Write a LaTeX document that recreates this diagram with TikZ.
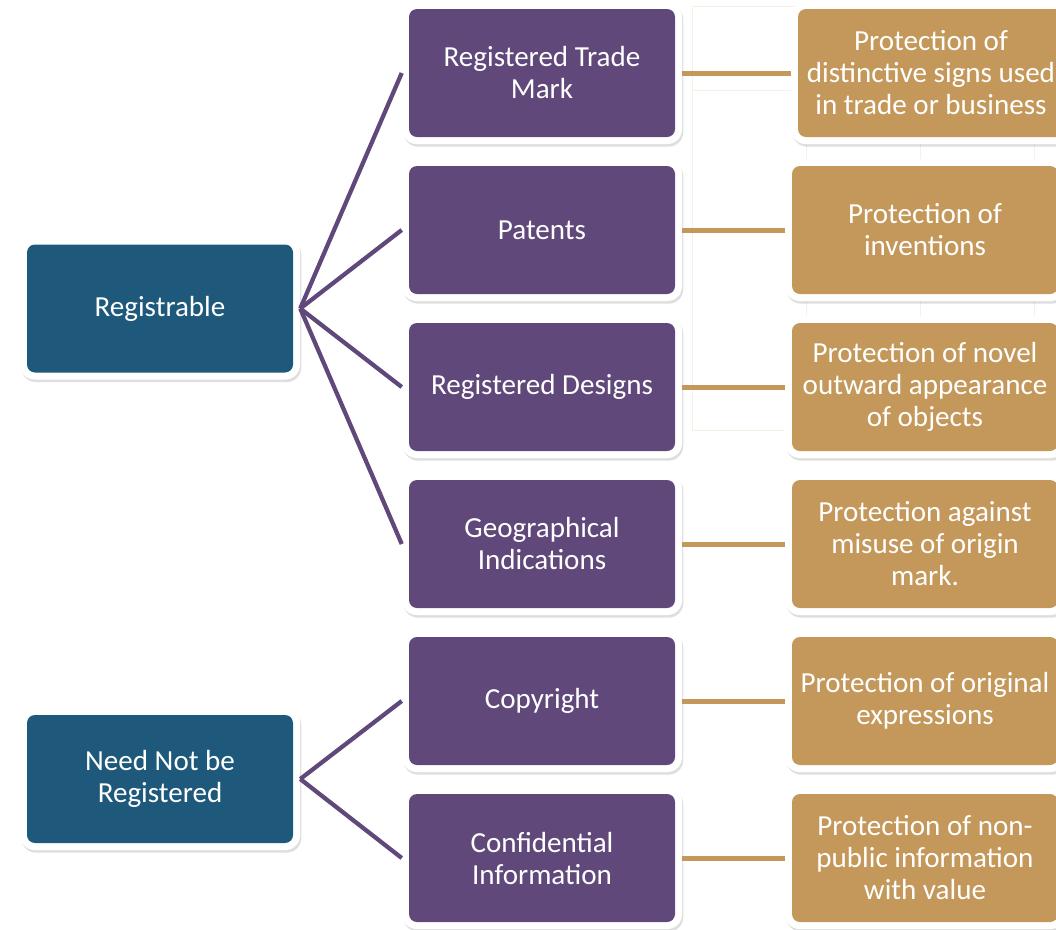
\documentclass[tikz,border=0pt]{standalone}
\usepackage{fontspec}
\setmainfont{Carlito}
\usetikzlibrary{shadows}

\definecolor{ipteal}{RGB}{30,88,122}
\definecolor{ippurple}{RGB}{96,73,122}
\definecolor{ipgold}{RGB}{195,152,90}
\definecolor{ipgrid}{RGB}{248,241,227}

\tikzset{
  card/.style={rounded corners=11pt, fill=white, minimum width=210pt,
    minimum height=106.5pt, inner sep=2pt, align=center, text=white,
    font=\fontsize{21.8}{24}\selectfont,
    drop shadow={shadow xshift=1pt, shadow yshift=-2pt, opacity=.25},
    path picture={\fill[#1, rounded corners=6pt]
      ([xshift=5.25pt,yshift=-5.25pt]path picture bounding box.north west) rectangle
      ([xshift=-5.25pt,yshift=5.25pt]path picture bounding box.south east);}},
  kindbox/.style={card=ipteal},
  rightbox/.style={card=ippurple},
  aimbox/.style={card=ipgold},
  gridline/.style={ipgrid, line width=.75pt}
}

\begin{document}
\begin{tikzpicture}[x=.75pt,y=-.75pt]
  \clip (0,0) rectangle (1056,929);

  % faint table behind the top right boxes
  \foreach \y in {6,90,430}
    \draw[gridline] (692,\y) -- (1056,\y);
  \foreach \x in {692,806,920,1034}
    \draw[gridline] (\x,6) -- (\x,430);

  \node[kindbox] (reg) at (160,308.5) {Registrable};
  \node[kindbox] (nnr) at (160,779) {Need Not be\\Registered};

  \node[rightbox] (tm)  at (542,73)  {Registered Trade\\Mark};
  \node[rightbox] (pat) at (542,230) {Patents};
  \node[rightbox] (des) at (542,387) {Registered Designs};
  \node[rightbox] (gi)  at (542,544) {Geographical\\Indications};
  \node[rightbox] (cr)  at (542,701) {Copyright};
  \node[rightbox] (ci)  at (542,858) {Confidential\\Information};

  \node[aimbox] (tmp)  at (931,73)  {Protection of\\distinctive signs used\\in trade or business};
  \node[aimbox] (patp) at (925,230) {Protection of\\inventions};
  \node[aimbox] (desp) at (925,387) {Protection of novel\\outward appearance\\of objects};
  \node[aimbox] (gip)  at (925,544) {Protection against\\misuse of origin\\mark.};
  \node[aimbox] (crp)  at (925,701) {Protection of original\\expressions};
  \node[aimbox] (cip)  at (925,858) {Protection of non-\\public information\\with value};

  \foreach \to in {tm,pat,des,gi}
    \draw[ippurple, line width=3.2pt] (reg.east) -- (\to.west);
  \foreach \to in {cr,ci}
    \draw[ippurple, line width=3.2pt] (nnr.east) -- (\to.west);
  \foreach \from/\to in {tm/tmp,pat/patp,des/desp,gi/gip,cr/crp,ci/cip}
    \draw[ipgold, line width=3.75pt] (\from.east) -- (\to.west);

\end{tikzpicture}
\end{document}
